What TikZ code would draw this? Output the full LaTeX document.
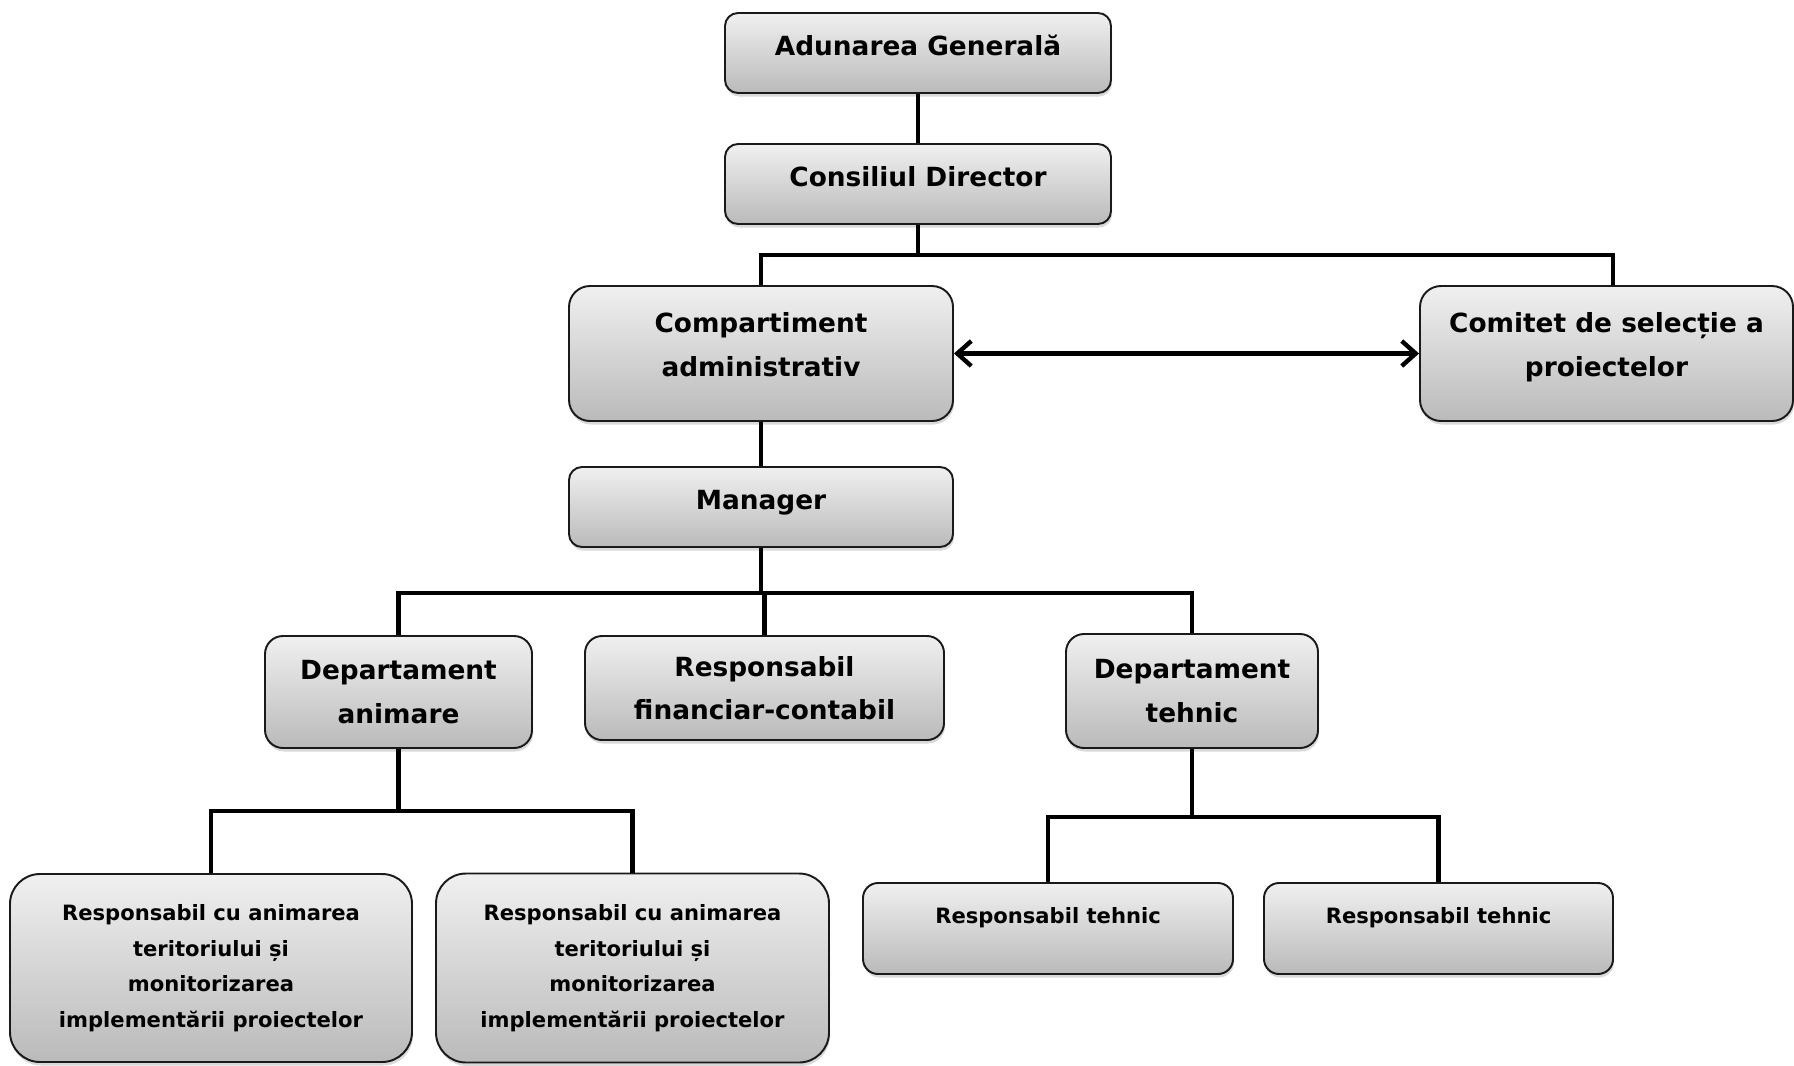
\documentclass[tikz,border=0pt]{standalone}
\usepackage{fontspec}
\setmainfont{DejaVu Sans}
\usetikzlibrary{arrows.meta, shadows}
\definecolor{box-top}{HTML}{F0F0F0}
\definecolor{box-bottom}{HTML}{BABABA}
\definecolor{box-line}{HTML}{1A1A1A}

\tikzset{
  orgbox/.style={draw=box-line, line width=1.1pt, rounded corners=#1,
                 top color=box-top, bottom color=box-bottom, align=center,
                 drop shadow={shadow xshift=0.02cm, shadow yshift=-0.07cm, opacity=0.3}},
  bigtext/.style={font=\fontsize{15}{24.8}\selectfont\bfseries},
  smalltext/.style={font=\fontsize{12}{20.2}\selectfont\bfseries},
  oneline/.style={text height=0.4cm, text depth=0.32cm},
  raised/.style={text depth=0.36cm},
  link/.style={line width=2.5pt, draw=black},
}

\begin{document}
\begin{tikzpicture}
    % Org chart of the association, boxes by level, top to bottom.
    % Coordinates: (x, y), 1px of the 1794x1065 sketch = 0.02cm
    %   top row: general assembly at (18.36,-1.06), board at (18.36,-3.68)
    %   second row: admin at (15.22,-7.07), selection committee at (32.13,-7.07)
    %   manager at (15.22,-10.14), departments at y=-13.8
    %   bottom row: animation staff at y=-19.36, technical staff at y=-18.57
    \useasboundingbox (0,0) rectangle (35.88,-21.3);

    \node[orgbox=0.26cm, bigtext, oneline, minimum width=7.72cm, minimum height=1.6cm]
          (ag) at (18.36,-1.06) {Adunarea Generală};
    \node[orgbox=0.26cm, bigtext, oneline, minimum width=7.72cm, minimum height=1.6cm]
          (cd) at (18.36,-3.68) {Consiliul Director};

    \node[orgbox=0.42cm, bigtext, raised, minimum width=7.68cm, minimum height=2.7cm]
          (ca) at (15.22,-7.07) {Compartiment\\ administrativ};
    \node[orgbox=0.42cm, bigtext, raised, minimum width=7.46cm, minimum height=2.7cm]
          (cs) at (32.13,-7.07) {Comitet de selecție a\\ proiectelor};

    \node[orgbox=0.26cm, bigtext, oneline, minimum width=7.68cm, minimum height=1.6cm]
          (mg) at (15.22,-10.14) {Manager};

    \node[orgbox=0.36cm, bigtext, minimum width=5.34cm, minimum height=2.24cm]
          (da) at (7.97,-13.84) {Departament\\ animare};
    \node[orgbox=0.34cm, bigtext, minimum width=7.18cm, minimum height=2.08cm]
          (rf) at (15.29,-13.76) {Responsabil\\ financiar-contabil};
    \node[orgbox=0.36cm, bigtext, minimum width=5.04cm, minimum height=2.28cm]
          (dt) at (23.84,-13.82) {Departament\\ tehnic};

    \node[orgbox=0.6cm, smalltext, minimum width=8.04cm, minimum height=3.76cm]
          (ra1) at (4.22,-19.36) {Responsabil cu animarea\\ teritoriului și\\ monitorizarea\\ implementării proiectelor};
    \node[orgbox=0.6cm, smalltext, minimum width=7.86cm, minimum height=3.78cm]
          (ra2) at (12.65,-19.36) {Responsabil cu animarea\\ teritoriului și\\ monitorizarea\\ implementării proiectelor};

    \node[orgbox=0.3cm, smalltext, text height=0.35cm, text depth=0.57cm,
          minimum width=7.4cm, minimum height=1.82cm]
          (rt1) at (20.96,-18.57) {Responsabil tehnic};
    \node[orgbox=0.3cm, smalltext, text height=0.35cm, text depth=0.57cm,
          minimum width=6.98cm, minimum height=1.82cm]
          (rt2) at (28.77,-18.57) {Responsabil tehnic};

    % connectors
    \draw[link] (ag.south) -- (cd.north);
    \draw[link] (cd.south) -- ++(0,-0.6) coordinate (busa) -| (ca.north);
    \draw[link] (busa) -| ([xshift=0.13cm]cs.north);
    \draw[link, {Straight Barb[length=0.28cm, width=0.5cm]}-{Straight Barb[length=0.28cm, width=0.5cm]}]
          (ca.east) -- (cs.west);
    \draw[link] (ca.south) -- (mg.north);
    \draw[link] (mg.south) -- ++(0,-0.9) coordinate (busb) -| (da.north);
    \draw[link] (busb) -| (dt.north);
    \draw[link] (busb) -| (rf.north);
    \draw[link] (da.south) -- ++(0,-1.24) coordinate (busc) -| (ra1.north);
    \draw[link] (busc) -| (ra2.north);
    \draw[link] (dt.south) -- ++(0,-1.36) coordinate (busd) -| (rt1.north);
    \draw[link] (busd) -| (rt2.north);
\end{tikzpicture}
\end{document}
